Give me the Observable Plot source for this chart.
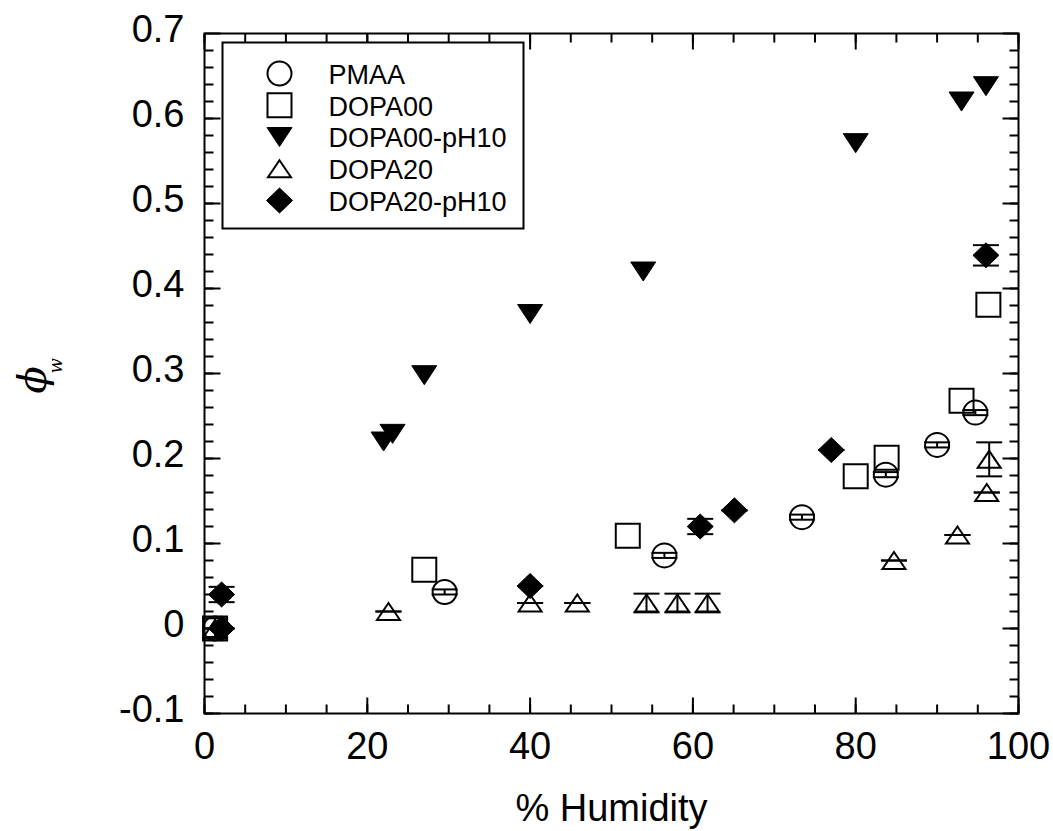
<!DOCTYPE html>
<html><head><meta charset="utf-8">
<script src="https://cdn.jsdelivr.net/npm/d3@7"></script>
<script src="https://cdn.jsdelivr.net/npm/@observablehq/plot@0.6"></script>
<style>body{margin:0;background:#fff}</style>
</head><body><div id="chart"></div>
<script>
// ---- data ----
const seriesNames = ["PMAA", "DOPA00", "DOPA00-pH10", "DOPA20", "DOPA20-pH10"];

const pmaaX   = [1.3, 29.5, 56.5, 73.4, 83.7, 90.0, 94.7];
const pmaaY   = [0.0, 0.043, 0.086, 0.131, 0.181, 0.216, 0.254];
const pmaaErr = [0.012, 0.003, 0.003, 0.003, 0.003, 0.003, 0.003];

const dopa00X = [1.3, 27.0, 52.0, 80.0, 83.8, 93.0, 96.3];
const dopa00Y = [0.0, 0.069, 0.109, 0.179, 0.201, 0.268, 0.381];

const dopa00pHX = [22.0, 23.1, 27.0, 40.0, 53.9, 80.0, 93.0, 96.0];
const dopa00pHY = [0.220, 0.229, 0.298, 0.370, 0.420, 0.571, 0.620, 0.638];

const dopa20X   = [1.3, 22.6, 40.0, 45.8, 54.3, 58.1, 61.8, 84.7, 92.5, 96.1, 96.4];
const dopa20Y   = [0.0, 0.020, 0.030, 0.030, 0.030, 0.030, 0.030, 0.080, 0.110, 0.160, 0.199];
const dopa20Err = [0, 0, 0, 0, 0.011, 0.011, 0.011, 0, 0, 0, 0.020];

const dopa20pHX   = [2.1, 2.1, 40.0, 60.9, 65.1, 77.0, 96.0];
const dopa20pHY   = [0.040, 0.0, 0.050, 0.120, 0.139, 0.210, 0.439];
const dopa20pHErr = [0.009, 0, 0, 0.009, 0, 0, 0.012];

const xTicks = [0, 20, 40, 60, 80, 100];
const xTickLabels = ["0", "20", "40", "60", "80", "100"];
const yTicks = [-0.1, 0, 0.1, 0.2, 0.3, 0.4, 0.5, 0.6, 0.7];
const yTickLabels = ["-0.1", "0", "0.1", "0.2", "0.3", "0.4", "0.5", "0.6", "0.7"];
const xMinorStep = 5;
const yMinorStep = 0.02;
const xLabel = "% Humidity";

// ---- symbols ----
const sym = {
  circle: {draw(c) { c.moveTo(12, 0); c.arc(0, 0, 12, 0, 2 * Math.PI); c.closePath(); }},
  square: {draw(c) { c.rect(-12, -12, 24, 24); }},
  triDown: {draw(c) { c.moveTo(-12.5, -9.5); c.lineTo(12.5, -9.5); c.lineTo(0, 9.5); c.closePath(); }},
  triUp: {draw(c) { c.moveTo(0, -8.5); c.lineTo(11.5, 8.5); c.lineTo(-11.5, 8.5); c.closePath(); }},
  diamond: {draw(c) { c.moveTo(0, -12.5); c.lineTo(13, 0); c.lineTo(0, 12.5); c.lineTo(-13, 0); c.closePath(); }},
  cap: {draw(c) { c.moveTo(-13, 0); c.lineTo(13, 0); }}
};
const tickSym = (dx, dy) => ({draw(c) { c.moveTo(0, 0); c.lineTo(dx, dy); }});

const series = [
  {name: seriesNames[0], xs: pmaaX, ys: pmaaY, err: pmaaErr, symbol: sym.circle, filled: false},
  {name: seriesNames[1], xs: dopa00X, ys: dopa00Y, err: null, symbol: sym.square, filled: false},
  {name: seriesNames[2], xs: dopa00pHX, ys: dopa00pHY, err: null, symbol: sym.triDown, filled: true},
  {name: seriesNames[3], xs: dopa20X, ys: dopa20Y, err: dopa20Err, symbol: sym.triUp, filled: false},
  {name: seriesNames[4], xs: dopa20pHX, ys: dopa20pHY, err: dopa20pHErr, symbol: sym.diamond, filled: true}
];

const xMinor = d3.range(xTicks[0], xTicks[xTicks.length - 1] + 1e-9, xMinorStep);
const yMinor = d3.range(0, 40).map(i => +(yTicks[0] + i * yMinorStep).toFixed(3)).filter(v => v <= yTicks[yTicks.length - 1] + 1e-9);

const marks = [];

// ticks (inward, on all four sides)
const tickStyle = {stroke: "black", fill: "none", strokeWidth: 2};
const minorLen = 9, majorLen = 16;
for (const [vals, len] of [[xMinor, minorLen], [xTicks, majorLen]]) {
  marks.push(Plot.dot(vals, {x: d => d, frameAnchor: "bottom", symbol: tickSym(0, -len), ...tickStyle}));
  marks.push(Plot.dot(vals, {x: d => d, frameAnchor: "top", symbol: tickSym(0, len), ...tickStyle}));
}
for (const [vals, len] of [[yMinor, minorLen], [yTicks, majorLen]]) {
  marks.push(Plot.dot(vals, {y: d => d, frameAnchor: "left", symbol: tickSym(len, 0), ...tickStyle}));
  marks.push(Plot.dot(vals, {y: d => d, frameAnchor: "right", symbol: tickSym(-len, 0), ...tickStyle}));
}

// error bars and markers
for (const s of series) {
  const rows = s.xs.map((x, i) => ({x, y: s.ys[i], e: s.err ? s.err[i] : null}));
  if (s.err) {
    const er = rows.filter(r => r.e != null);
    marks.push(Plot.ruleX(er.filter(r => r.e > 0), {x: "x", y1: r => r.y - r.e, y2: r => r.y + r.e, stroke: "black", strokeWidth: 2}));
    marks.push(Plot.dot(er, {x: "x", y: r => r.y - r.e, symbol: sym.cap, stroke: "black", fill: "none", strokeWidth: 2}));
    marks.push(Plot.dot(er, {x: "x", y: r => r.y + r.e, symbol: sym.cap, stroke: "black", fill: "none", strokeWidth: 2}));
  }
  marks.push(Plot.dot(rows, {
    x: "x", y: "y", symbol: s.symbol,
    fill: s.filled ? "black" : "none",
    stroke: "black", strokeWidth: s.filled ? 1 : 2
  }));
}

// frame and axes
marks.push(Plot.frame({stroke: "black", strokeWidth: 2}));
marks.push(Plot.axisX({ticks: xTicks, tickSize: 0, tickPadding: 19, label: null,
  tickFormat: d => xTickLabels[xTicks.indexOf(d)]}));
marks.push(Plot.axisY({ticks: yTicks, tickSize: 0, tickPadding: 20, label: null, dy: -4,
  tickFormat: d => yTickLabels[yTicks.indexOf(d)]}));
marks.push(Plot.text([xLabel], {text: d => d, frameAnchor: "bottom", dy: 95, fontSize: 38, lineAnchor: "middle"}));

// y label: phi with subscript w
marks.push(Plot.text(["\u03D5"], {text: d => d, frameAnchor: "left", dx: -171, dy: 20, rotate: -90,
  fontSize: 40, fontStyle: "italic", fontFamily: "DejaVu Serif, serif", lineAnchor: "middle"}));
marks.push(Plot.text(["w"], {text: d => d, frameAnchor: "left", dx: -148, dy: 0, rotate: -90,
  fontSize: 18, fontStyle: "italic", fontFamily: "DejaVu Serif, serif", lineAnchor: "middle"}));

// legend (inside the frame, top-left)
const legendBox = {draw(c) { c.rect(0, 0, 301, 186); }};
marks.push(Plot.dot([0], {frameAnchor: "top-left", dx: 18, dy: 9, symbol: legendBox,
  fill: "white", stroke: "black", strokeWidth: 2}));
series.forEach((s, i) => {
  marks.push(Plot.dot([s.name], {frameAnchor: "top-left", dx: 75, dy: 40 + i * 31.75, symbol: s.symbol,
    fill: s.filled ? "black" : "none", stroke: "black", strokeWidth: s.filled ? 1 : 2}));
  marks.push(Plot.text([s.name], {text: d => d, frameAnchor: "top-left", dx: 124, dy: 42 + i * 31.6,
    textAnchor: "start", lineAnchor: "middle", fontSize: 27}));
});

const chart = Plot.plot({
  width: 1053, height: 831,
  marginLeft: 204, marginRight: 35, marginTop: 33, marginBottom: 118,
  x: {domain: [0, 100]},
  y: {domain: [-0.1, 0.7]},
  style: {fontFamily: "Liberation Sans, Arial, sans-serif", fontSize: "38px", background: "white", color: "black", overflow: "visible"},
  marks
});
document.getElementById("chart").append(chart);
</script>
</body></html>
